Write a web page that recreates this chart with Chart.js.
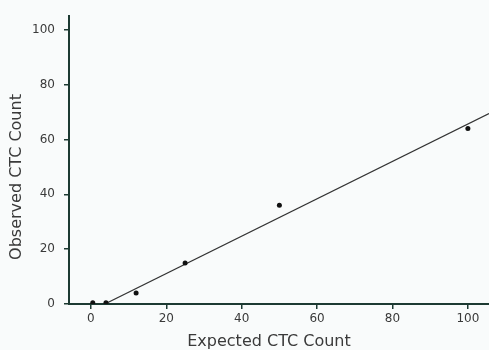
<!DOCTYPE html>
<html>
<head>
<meta charset="utf-8">
<script src="https://cdn.jsdelivr.net/npm/chart.js@4"></script>
<style>
  html, body { margin: 0; padding: 0; background: #f9fbfb; }
  #wrap { width: 489px; height: 350px; }
</style>
</head>
<body>
<div id="wrap"><canvas id="chart" width="489" height="350"></canvas></div>
<script>
// observed vs expected CTC counts
const expected = [0.5, 4, 12, 25, 50, 100];
const observed = [0.5, 0.5, 4, 15, 36, 64];
// regression line end points
const fitX = [3.7, 105.6];
const fitY = [0, 69.5];
const xTicks = [0, 20, 40, 60, 80, 100];
const yTicks = [0, 20, 40, 60, 80, 100];
const xTitle = 'Expected CTC Count';
const yTitle = 'Observed CTC Count';

const axisColor = '#1d3a32';
const textColor = '#3a3a3a';
const tickFont = { family: 'DejaVu Sans', size: 12 };
const titleFont = { family: 'DejaVu Sans', size: 16 };

const points = expected.map((x, i) => ({ x, y: observed[i] }));
const fit = fitX.map((x, i) => ({ x, y: fitY[i] }));

// axis titles sit off-centre in the original, so draw them by hand
const titlesPlugin = {
  id: 'axisTitles',
  afterDraw(chart) {
    const ctx = chart.ctx;
    ctx.save();
    ctx.fillStyle = textColor;
    ctx.font = `${titleFont.size}px "${titleFont.family}"`;
    ctx.textAlign = 'center';
    ctx.textBaseline = 'middle';
    ctx.fillText(xTitle, 269, 342);
    ctx.translate(17, 177);
    ctx.rotate(-Math.PI / 2);
    ctx.fillText(yTitle, 0, 0);
    ctx.restore();
  },
};

new Chart(document.getElementById('chart'), {
  type: 'scatter',
  data: {
    datasets: [
      {
        data: points,
        pointRadius: 2.5,
        pointBackgroundColor: '#111',
        pointBorderWidth: 0,
        showLine: false,
      },
      {
        data: fit,
        showLine: true,
        borderColor: '#333',
        borderWidth: 1.2,
        pointRadius: 0,
      },
    ],
  },
  plugins: [titlesPlugin],
  options: {
    responsive: false,
    animation: false,
    layout: { autoPadding: false, padding: { top: 15, right: 0, left: 0, bottom: 0 } },
    plugins: { legend: { display: false }, tooltip: { enabled: false } },
    scales: {
      x: {
        type: 'linear',
        min: -5.8,
        max: 105.6,
        afterBuildTicks: (s) => { s.ticks = xTicks.map((v) => ({ value: v })); },
        afterFit: (s) => { s.height = 46; s.paddingRight = 0; s.paddingLeft = 0; },
        border: { color: axisColor, width: 2 },
        grid: { drawOnChartArea: false, color: axisColor, tickLength: 5, lineWidth: 1.5 },
        ticks: { color: textColor, font: tickFont, padding: 3, maxRotation: 0 },
        title: { display: false },
      },
      y: {
        type: 'linear',
        min: 0,
        max: 105,
        afterBuildTicks: (s) => { s.ticks = yTicks.map((v) => ({ value: v })); },
        afterFit: (s) => { s.width = 69; },
        border: { color: axisColor, width: 2 },
        grid: { drawOnChartArea: false, color: axisColor, tickLength: 5, lineWidth: 1.5 },
        ticks: { color: textColor, font: tickFont, padding: 9 },
        title: { display: false },
      },
    },
  },
});
</script>
</body>
</html>
